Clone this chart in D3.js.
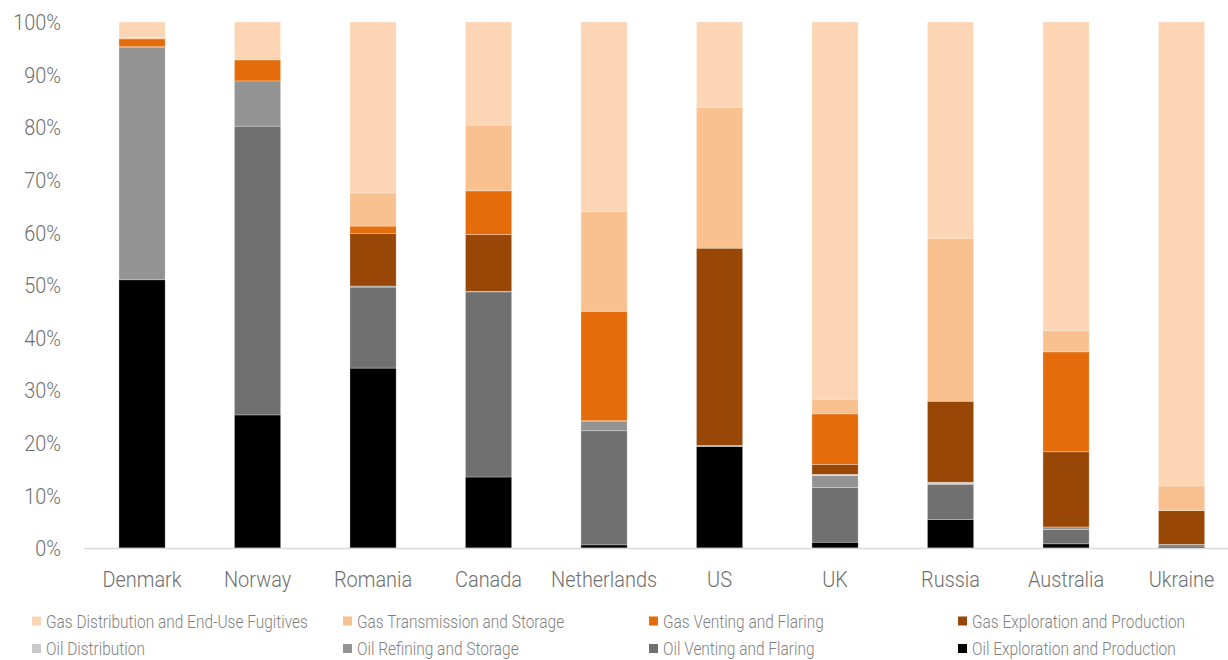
<!DOCTYPE html>
<html>
<head>
<meta charset="utf-8">
<script src="https://cdn.jsdelivr.net/npm/d3@7/dist/d3.min.js"></script>
<style>
  html, body { margin: 0; padding: 0; background: #fff; }
  svg text { font-family: Roboto, "DejaVu Sans Condensed", sans-serif; font-weight: 300; }
</style>
</head>
<body>
<div id="chart"></div>
<script>
// categories (x axis)
const countries = ['Denmark', 'Norway', 'Romania', 'Canada', 'Netherlands', 'US', 'UK', 'Russia', 'Australia', 'Ukraine'];

// series, bottom of the stack first
const seriesNames = [
  'Oil Exploration and Production',
  'Oil Venting and Flaring',
  'Oil Refining and Storage',
  'Oil Distribution',
  'Gas Exploration and Production',
  'Gas Venting and Flaring',
  'Gas Transmission and Storage',
  'Gas Distribution and End-Use Fugitives'
];

// share of emissions (%) per country, same order as countries
const oilExploration   = [51.0, 25.3, 34.2, 13.5,  0.6, 19.3,  1.1,  5.4,  0.8,  0.2];
const oilVenting       = [ 0.0, 54.9, 15.4, 35.2, 21.7,  0.0, 10.4,  6.7,  2.7,  0.4];
const oilRefining      = [44.2,  8.6,  0.2,  0.1,  1.8,  0.2,  2.3,  0.2,  0.5,  0.1];
const oilDistribution  = [ 0.0,  0.0,  0.0,  0.0,  0.0,  0.0,  0.2,  0.2,  0.0,  0.0];
const gasExploration   = [ 0.1,  0.0, 10.0, 10.8,  0.1, 37.5,  1.9, 15.4, 14.3,  6.4];
const gasVenting       = [ 1.5,  4.0,  1.4,  8.3, 20.8,  0.0,  9.6,  0.0, 19.0,  0.0];
const gasTransmission  = [ 0.3,  0.0,  6.3, 12.5, 19.0, 26.8,  2.8, 31.0,  4.0,  4.7];
const gasDistribution  = [ 2.9,  7.2, 32.5, 19.6, 36.0, 16.2, 71.7, 41.1, 58.7, 88.2];

const yTicks = [0, 10, 20, 30, 40, 50, 60, 70, 80, 90, 100];

// legend layout order (row by row)
const legendOrder = [
  'Gas Distribution and End-Use Fugitives', 'Gas Transmission and Storage', 'Gas Venting and Flaring', 'Gas Exploration and Production',
  'Oil Distribution', 'Oil Refining and Storage', 'Oil Venting and Flaring', 'Oil Exploration and Production'
];

const colors = {
  'Oil Exploration and Production': '#000000',
  'Oil Venting and Flaring': '#707070',
  'Oil Refining and Storage': '#939393',
  'Oil Distribution': '#c8c8c8',
  'Gas Exploration and Production': '#994707',
  'Gas Venting and Flaring': '#e46c0a',
  'Gas Transmission and Storage': '#f9c090',
  'Gas Distribution and End-Use Fugitives': '#fcd5b5'
};

const seriesValues = [oilExploration, oilVenting, oilRefining, oilDistribution,
  gasExploration, gasVenting, gasTransmission, gasDistribution];

const table = countries.map((c, i) => {
  const row = { country: c };
  seriesNames.forEach((s, j) => { row[s] = seriesValues[j][i]; });
  return row;
});

const width = 1228;
const height = 660;

const svg = d3.select('#chart').append('svg')
  .attr('width', width)
  .attr('height', height);

const x = d3.scaleBand()
  .domain(countries)
  .range([84.3, 1239.3])
  .paddingInner(0.6)
  .paddingOuter(0.3);

const y = d3.scaleLinear()
  .domain([0, 100])
  .range([548, 22]);

const stack = d3.stack().keys(seriesNames);
const layers = stack(table);

// the original uses a condensed face; squeeze the installed one to the same widths
function squeeze(sample, size, target) {
  const t = svg.append('text').style('font-size', size + 'px').text(sample);
  const w = t.node().getComputedTextLength();
  t.remove();
  return w > 0 ? target / w : 1;
}
const axisScale = squeeze('Netherlands', 22.5, 106);
const legendScale = squeeze('Gas Distribution and End-Use Fugitives', 19, 262);

// y axis labels
svg.append('g')
  .selectAll('text')
  .data(yTicks)
  .enter().append('text')
  .attr('transform', d => `translate(61,${y(d)}) scale(${axisScale},1)`)
  .attr('dy', '0.36em')
  .attr('text-anchor', 'end')
  .attr('fill', '#6f6f6f')
  .style('font-size', '22.5px')
  .text(d => d + '%');

// bars
svg.append('g')
  .selectAll('g')
  .data(layers)
  .enter().append('g')
  .attr('fill', d => colors[d.key])
  .selectAll('rect')
  .data(d => d)
  .enter().append('rect')
  .attr('x', d => x(d.data.country))
  .attr('y', d => y(d[1]))
  .attr('width', x.bandwidth())
  .attr('height', d => Math.max(0, y(d[0]) - y(d[1])))
  .attr('stroke', '#ffffff')
  .attr('stroke-opacity', 0.35)
  .attr('stroke-width', 0.8);

// baseline
svg.append('line')
  .attr('x1', 84)
  .attr('x2', width)
  .attr('y1', y(0) + 0.5)
  .attr('y2', y(0) + 0.5)
  .attr('stroke', '#d9d9d9')
  .attr('stroke-width', 1.5);

// category labels
svg.append('g')
  .selectAll('text')
  .data(countries)
  .enter().append('text')
  .attr('transform', d => `translate(${x(d) + x.bandwidth() / 2},587) scale(${axisScale},1)`)
  .attr('text-anchor', 'middle')
  .attr('fill', '#6f6f6f')
  .style('font-size', '22.5px')
  .text(d => d);

// legend
const legendCols = [32, 343, 649, 958];
const legendRows = [621, 648.5];

const legend = svg.append('g')
  .selectAll('g')
  .data(legendOrder)
  .enter().append('g')
  .attr('transform', (d, i) => `translate(${legendCols[i % 4]},${legendRows[Math.floor(i / 4)]})`);

legend.append('rect')
  .attr('x', 0)
  .attr('y', -4.5)
  .attr('width', 9)
  .attr('height', 9)
  .attr('fill', d => colors[d]);

legend.append('text')
  .attr('transform', `translate(14,0) scale(${legendScale},1)`)
  .attr('dy', '0.36em')
  .attr('fill', '#7f7f7f')
  .style('font-size', '19px')
  .text(d => d);
</script>
</body>
</html>
